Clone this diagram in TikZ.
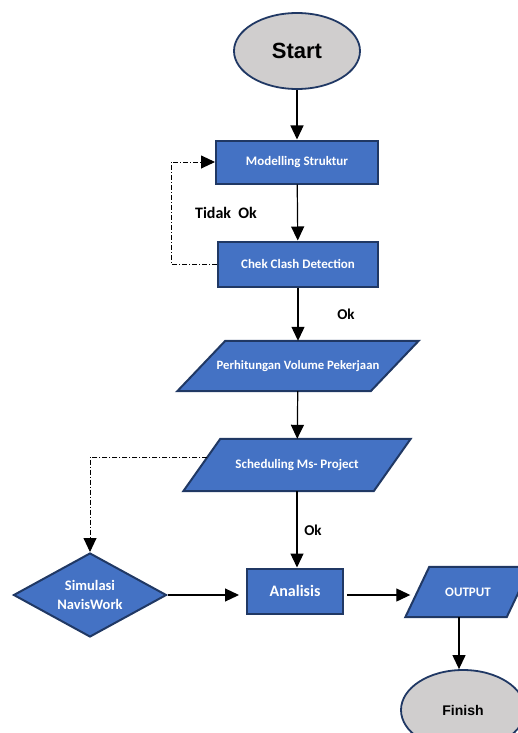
\documentclass[tikz,border=0pt]{standalone}
\usepackage{fontspec}
\setmainfont{Carlito}
\newfontfamily\arialfont{Liberation Sans}
\usetikzlibrary{arrows.meta,positioning,shapes.geometric,calc,backgrounds}
\definecolor{boxblue}{HTML}{4472C4}
\definecolor{boxline}{HTML}{203864}
\definecolor{termgray}{HTML}{D0CECE}

\begin{document}
\begin{tikzpicture}[x=1pt, y=-1pt,
        every node/.style={inner sep=1pt},
        terminal/.style={ellipse, draw=boxline, line width=1.8pt, fill=termgray, font=\arialfont\bfseries},
        process/.style={rectangle, draw=boxline, line width=2pt, fill=boxblue, text=white, font=\bfseries},
        dataslot/.style={rectangle, inner sep=0pt, text=white, font=\bfseries},
        slantbox/.style={draw=boxline, line width=2pt, fill=boxblue},
        decision/.style={diamond, aspect=1.82, draw=boxline, line width=2pt, fill=boxblue, text=white, font=\bfseries, align=center},
        flow/.style={-{Triangle[length=14pt,width=13pt]}, line width=1.2pt},
        loopline/.style={dash pattern=on 5pt off 2pt on 1pt off 2pt, line width=0.9pt},
        lbl/.style={font=\bfseries\fontsize{15}{18}\selectfont}]
        
        \clip (0,0) rectangle (518,733);
        
        % terminals
        \node[terminal, minimum width=126pt, minimum height=76pt, font=\arialfont\bfseries\fontsize{22}{26}\selectfont] (start) at (297,51) {Start};
        \node[terminal, minimum width=124pt, minimum height=80pt, font=\arialfont\bfseries\fontsize{14}{17}\selectfont] (finish) at (463,710) {Finish};
        
        % proses
        \node[process, minimum width=162pt, minimum height=43pt, font=\bfseries\fontsize{13}{15}\selectfont] (model) at (297,162) {Modelling Struktur};
        \node[process, minimum width=160pt, minimum height=45pt, font=\bfseries\fontsize{13}{15}\selectfont] (chek) at (298,264) {Chek Clash Detection};
        \node[dataslot, minimum width=193pt, minimum height=50pt, font=\bfseries\fontsize{12.7}{15}\selectfont] (hitung) at (298,366) {Perhitungan Volume Pekerjaan};
        \node[dataslot, minimum width=190pt, minimum height=52pt, font=\bfseries\fontsize{13}{15}\selectfont] (sched) at (297,465) {Scheduling Ms- Project};
        \node[decision, minimum width=153pt, minimum height=84pt, font=\bfseries\fontsize{14.5}{19}\selectfont] (sim) at (90,595) {Simulasi\\NavisWork};
        \node[process, minimum width=96pt, minimum height=45pt, font=\bfseries\fontsize{16}{19}\selectfont] (anal) at (295,591) {Analisis};
        \node[dataslot, minimum width=101pt, minimum height=50pt, font=\bfseries\fontsize{13}{15}\selectfont] (out) at (468,592) {OUTPUT};
        
        % jajar genjang di belakang teks
        \begin{pgfonlayer}{background}
          \draw[slantbox] ([xshift=24pt]hitung.north west) -- ([xshift=24pt]hitung.north east)
            -- ([xshift=-24pt]hitung.south east) -- ([xshift=-24pt]hitung.south west) -- cycle;
          \draw[slantbox] ([xshift=18.5pt]sched.north west) -- ([xshift=18.5pt]sched.north east)
            -- ([xshift=-18.5pt]sched.south east) -- ([xshift=-18.5pt]sched.south west) -- cycle;
          \draw[slantbox] ([xshift=12pt]out.north west) -- ([xshift=12pt]out.north east)
            -- ([xshift=-12pt]out.south east) -- ([xshift=-12pt]out.south west) -- cycle;
        \end{pgfonlayer}
        
        % label
        \node[lbl, font=\bfseries\fontsize{16}{19}\selectfont] (tidak) at (226,213) {Tidak~~Ok};
        \node[lbl] (ok1) at (346,314) {Ok};
        \node[lbl] (ok2) at (313,530) {Ok};
        
        % panah
        \draw[flow] (start) -- (model);
        \draw[flow] (model) -- (chek);
        \draw[flow] (chek) -- (hitung);
        \draw[flow] (hitung) -- (sched);
        \draw[flow] (sched.south) -- (sched.south |- anal.north);
        \draw[flow] (sim.east) -- ([xshift=-7pt]sim.east -| anal.west);
        \draw[flow] ([xshift=3pt]anal.east |- sim.east) -- ([xshift=-7pt]sim.east -| out.west);
        \draw[flow] ([xshift=-9pt]out.south) -- ([xshift=-9pt]out.south |- finish.north);
        \draw[loopline, -{Triangle[length=14pt,width=13pt]}] (chek.west) -- ++(-46,0) |- (model.west);
        \coordinate (schedleft) at ($([xshift=18.5pt]sched.north west)!0.35!([xshift=-18.5pt]sched.south west)$);
        \draw[loopline, -{Triangle[length=14pt,width=13pt]}] (schedleft) -| (sim.north);
\end{tikzpicture}
\end{document}
